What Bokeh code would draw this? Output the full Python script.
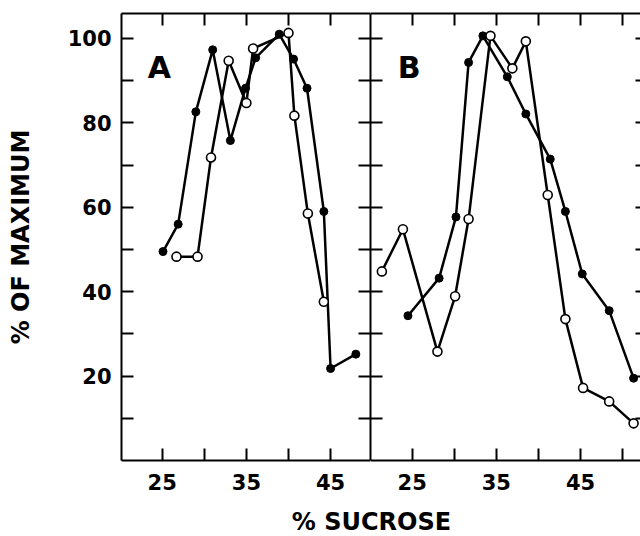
from bokeh.plotting import figure
from bokeh.layouts import column, row
from bokeh.models import LinearAxis, FixedTicker, Range1d, Label
from bokeh.embed import file_html
from bokeh.resources import INLINE

# ---- data ----
a_filled_x = [25.1, 26.9, 29.0, 31.0, 33.1, 34.9, 36.1, 38.9, 40.6, 42.2, 44.2, 45.0, 48.0]
a_filled_y = [49.5, 56.0, 82.6, 97.3, 75.8, 88.2, 95.4, 101.0, 95.1, 88.2, 59.0, 21.8, 25.2]
a_open_x = [26.7, 29.2, 30.8, 32.9, 35.0, 35.8, 40.0, 40.7, 42.3, 44.2]
a_open_y = [48.3, 48.3, 71.8, 94.7, 84.7, 97.6, 101.3, 81.7, 58.5, 37.6]

b_filled_x = [24.5, 28.2, 30.2, 31.7, 33.4, 36.3, 38.5, 41.4, 43.2, 45.2, 48.4, 51.3]
b_filled_y = [34.3, 43.2, 57.7, 94.3, 100.6, 90.9, 82.1, 71.4, 59.0, 44.2, 35.5, 19.5]
b_open_x = [21.4, 23.9, 28.0, 30.1, 31.7, 34.3, 36.9, 38.5, 41.1, 43.2, 45.3, 48.4, 51.3]
b_open_y = [44.8, 54.8, 25.8, 38.9, 57.2, 100.6, 92.9, 99.3, 62.9, 33.5, 17.2, 14.0, 8.8]

x_major = [25, 35, 45]
x_minor = [30, 40, 50]
y_major = [20, 40, 60, 80, 100]
y_minor = [10, 30, 50, 70, 90]

FONT = "DejaVu Sans"


def style_axis(ax, tick_len=12, size="21px", line=True):
    ax.major_tick_in = tick_len
    ax.major_tick_out = 0
    ax.minor_tick_in = tick_len
    ax.minor_tick_out = 0
    ax.major_tick_line_width = 2
    ax.minor_tick_line_width = 2
    ax.major_tick_line_color = "black"
    ax.minor_tick_line_color = "black"
    ax.axis_line_width = 2
    ax.axis_line_color = "black" if line else None
    ax.major_label_text_font = FONT
    ax.major_label_text_font_style = "bold"
    ax.major_label_text_font_size = size
    ax.major_label_text_color = "black"


def make_panel(width, xr, left_border, letter, fx, fy, ox, oy, left_labels, right_tick):
    p = figure(width=width, height=508, x_range=xr, y_range=Range1d(0, 105.9),
               output_backend="svg", toolbar_location=None,
               min_border_left=left_border, min_border_right=0,
               min_border_top=13, min_border_bottom=48,
               x_axis_type=None, y_axis_type=None)
    p.outline_line_color = None
    p.background_fill_color = "white"
    p.border_fill_color = "white"

    # labelled bottom axis
    bottom = LinearAxis(ticker=FixedTicker(ticks=x_major, minor_ticks=x_minor))
    style_axis(bottom)
    bottom.major_label_standoff = 13
    p.add_layout(bottom, "below")

    # top axis: ticks only (all drawn as minor ticks, so no labels)
    top = LinearAxis(ticker=FixedTicker(ticks=[], minor_ticks=x_major + x_minor))
    style_axis(top)
    p.add_layout(top, "above")

    if left_labels:
        left = LinearAxis(ticker=FixedTicker(ticks=y_major, minor_ticks=y_minor))
        style_axis(left)
        left.major_label_standoff = 10
        left.axis_label = "% OF MAXIMUM"
        left.axis_label_text_font = FONT
        left.axis_label_text_font_style = "bold"
        left.axis_label_text_font_size = "24px"
        left.axis_label_text_color = "black"
        left.axis_label_standoff = 30
    else:
        left = LinearAxis(ticker=FixedTicker(ticks=[], minor_ticks=y_major + y_minor))
        style_axis(left)
    p.add_layout(left, "left")

    right = LinearAxis(ticker=FixedTicker(ticks=[], minor_ticks=y_major + y_minor))
    style_axis(right, tick_len=right_tick, line=(right_tick == 12))
    p.add_layout(right, "right")

    p.line(ox, oy, line_color="black", line_width=2.5)
    p.line(fx, fy, line_color="black", line_width=2.5)
    p.scatter(fx, fy, marker="circle", size=8, fill_color="black", line_color="black", line_width=1)
    p.scatter(ox, oy, marker="circle", size=9, fill_color="white", line_color="black", line_width=1.6)

    p.add_layout(Label(x=23.3, y=93.1, text=letter, text_font=FONT, text_font_style="bold",
                       text_font_size="30px", text_color="black",
                       text_align="left", text_baseline="alphabetic"))
    return p


pA = make_panel(370, Range1d(20.17, 49.74), 121, "A",
                a_filled_x, a_filled_y, a_open_x, a_open_y, True, 12)
pB = make_panel(270, Range1d(20.05, 52.12), 0, "B",
                b_filled_x, b_filled_y, b_open_x, b_open_y, False, 5)

pL = figure(width=640, height=28, x_range=Range1d(0, 640), y_range=Range1d(0, 28),
            output_backend="svg", toolbar_location=None,
            min_border_left=0, min_border_right=0, min_border_top=0, min_border_bottom=0,
            x_axis_type=None, y_axis_type=None)
pL.outline_line_color = None
pL.add_layout(Label(x=371, y=15, text="% SUCROSE", text_font=FONT, text_font_style="bold",
                    text_font_size="24px", text_color="black",
                    text_align="center", text_baseline="middle"))

layout = column(row(pA, pB, spacing=0), pL, spacing=0)

open("out.html", "w").write(file_html(layout, INLINE))
